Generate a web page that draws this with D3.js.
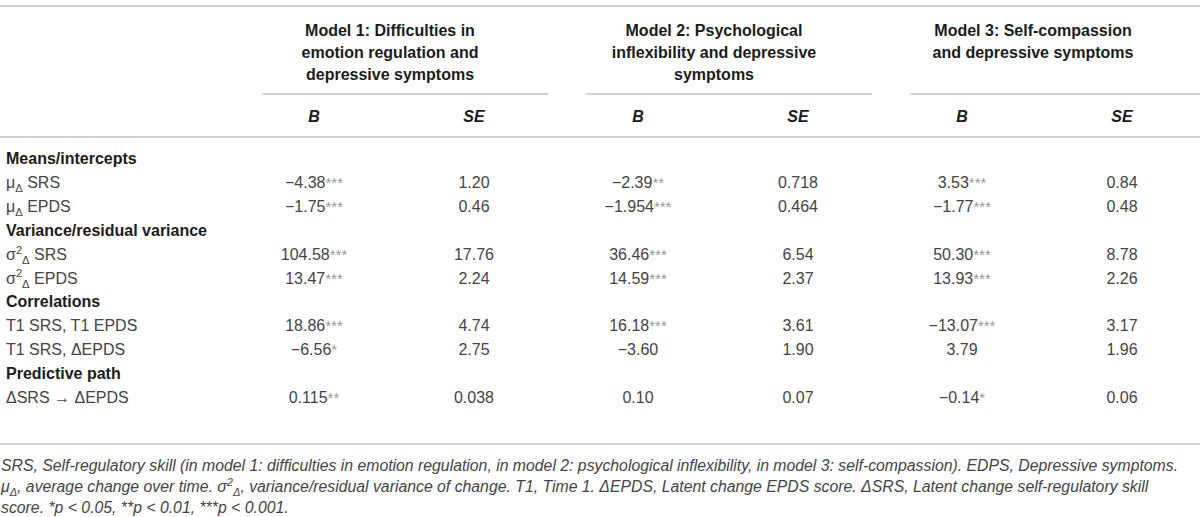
<!DOCTYPE html>
<html>
<head>
<meta charset="utf-8">
<script src="https://cdn.jsdelivr.net/npm/d3@7"></script>
<style>
  body { margin: 0; background: #fff; }
  svg { display: block; font-family: "Liberation Sans", Arial, sans-serif; }
</style>
</head>
<body>
<svg id="tbl" width="1200" height="517"></svg>
<script>
/////////////////////////// Data ///////////////////////////
const models = ["Model 1", "Model 2", "Model 3"];
const modelTitles = [
  ["Model 1: Difficulties in", "emotion regulation and", "depressive symptoms"],
  ["Model 2: Psychological", "inflexibility and depressive", "symptoms"],
  ["Model 3: Self-compassion", "and depressive symptoms"]
];
const subCols = ["B", "SE"];

const sections = ["Means/intercepts", "Variance/residual variance", "Correlations", "Predictive path"];
const rowLabels = ["μ_{Δ} SRS", "μ_{Δ} EPDS", "σ^{2}_{Δ} SRS", "σ^{2}_{Δ} EPDS",
                   "T1 SRS, T1 EPDS", "T1 SRS, ΔEPDS", "ΔSRS → ΔEPDS"];
const rowSection = [0, 0, 1, 1, 2, 2, 3];

const model1B     = ["−4.38", "−1.75", "104.58", "13.47", "18.86", "−6.56", "0.115"];
const model1Stars = ["***", "***", "***", "***", "***", "*", "**"];
const model1SE    = ["1.20", "0.46", "17.76", "2.24", "4.74", "2.75", "0.038"];

const model2B     = ["−2.39", "−1.954", "36.46", "14.59", "16.18", "−3.60", "0.10"];
const model2Stars = ["**", "***", "***", "***", "***", "", ""];
const model2SE    = ["0.718", "0.464", "6.54", "2.37", "3.61", "1.90", "0.07"];

const model3B     = ["3.53", "−1.77", "50.30", "13.93", "−13.07", "3.79", "−0.14"];
const model3Stars = ["***", "***", "***", "***", "***", "", "*"];
const model3SE    = ["0.84", "0.48", "8.78", "2.26", "3.17", "1.96", "0.06"];

const footnote = [
  "SRS, Self-regulatory skill (in model 1: difficulties in emotion regulation, in model 2: psychological inflexibility, in model 3: self-compassion). EDPS, Depressive symptoms.",
  "μ_{Δ}, average change over time. σ^{2}_{Δ}, variance/residual variance of change. T1, Time 1. ΔEPDS, Latent change EPDS score. ΔSRS, Latent change self-regulatory skill",
  "score. *p < 0.05, **p < 0.01, ***p < 0.001."
];

/////////////////////////// Layout ///////////////////////////
const svg = d3.select('#tbl');
const width = +svg.attr("width");

const lineColor = "#d2d2d2";
const textColor = "#444";
const headColor = "#1b1b1b";
const fs = 16;

// model groups across the page
const xModel = d3.scaleBand().domain(models).range([228, 1200]);
// B / SE position inside a model group
const xSub = d3.scaleOrdinal().domain(subCols).range([86, 246]);

// build the body lines: section header followed by its rows
const bodyLines = [];
sections.forEach((s, si) => {
  bodyLines.push({ type: "section", text: s });
  rowLabels.forEach((r, ri) => {
    if (rowSection[ri] === si) bodyLines.push({ type: "row", text: r, index: ri });
  });
});
const yBody = d3.scalePoint().domain(d3.range(bodyLines.length)).range([158, 397]);

//_________________ Helper: text with ^{sup} and _{sub}
function richText(sel, str, size) {
  const parts = str.split(/(\^\{[^}]*\}|_\{[^}]*\})/).filter(p => p !== "");
  let shift = 0;
  parts.forEach(p => {
    let target = 0, content = p, f = size;
    if (p.startsWith("^{")) { target = -size * 0.38; content = p.slice(2, -1); f = size * 0.7; }
    else if (p.startsWith("_{")) { target = size * 0.28; content = p.slice(2, -1); f = size * 0.7; }
    sel.append("tspan")
      .attr("dy", target - shift)
      .attr("font-size", f)
      .text(content);
    shift = target;
  });
  if (shift !== 0) sel.append("tspan").attr("dy", -shift).text("");
}

//_________________ Rules
function hLine(x1, x2, y) {
  svg.append("line")
    .attr("x1", x1).attr("x2", x2)
    .attr("y1", y).attr("y2", y)
    .attr("stroke", lineColor)
    .attr("stroke-width", 2);
}
hLine(0, width, 6);
hLine(0, width, 137);
hLine(0, width, 444);
models.forEach((m, i) => {
  const x0 = xModel(m);
  const x1 = i === models.length - 1 ? width : x0 + xModel.bandwidth() - 4;
  hLine(x0 + 34, x1, 94);
});

//_________________ Header
const head = svg.append("g")
  .attr("font-weight", 700)
  .attr("font-size", fs)
  .attr("fill", headColor)
  .attr("text-anchor", "middle");

models.forEach((m, i) => {
  modelTitles[i].forEach((t, j) => {
    head.append("text")
      .attr("x", xModel(m) + xModel.bandwidth() / 2 - (i === 2 ? 5 : 0))
      .attr("y", 36 + j * 22)
      .text(t);
  });
  subCols.forEach(c => {
    head.append("text")
      .attr("x", xModel(m) + xSub(c))
      .attr("y", 122)
      .attr("font-style", "italic")
      .text(c);
  });
});

//_________________ Body
const body = svg.append("g").attr("font-size", fs);

bodyLines.forEach((d, li) => {
  const t = body.append("text")
    .attr("x", 6)
    .attr("y", yBody(li) + 6);
  if (d.type === "section") {
    t.attr("font-weight", 700).attr("fill", headColor).text(d.text);
  } else {
    t.attr("fill", textColor);
    richText(t, d.text, fs);
  }
});

const bCols = [model1B, model2B, model3B];
const starCols = [model1Stars, model2Stars, model3Stars];
const seCols = [model1SE, model2SE, model3SE];

models.forEach((m, mi) => {
  bodyLines.forEach((d, li) => {
    if (d.type !== "row") return;
    const r = d.index;
    const tb = body.append("text")
      .attr("x", xModel(m) + xSub("B"))
      .attr("y", yBody(li) + 6)
      .attr("text-anchor", "middle")
      .attr("fill", textColor);
    tb.append("tspan").text(bCols[mi][r]);
    if (starCols[mi][r]) {
      tb.append("tspan")
        .attr("font-size", 15)
        .attr("fill", "#999")
        .text(starCols[mi][r]);
    }
    body.append("text")
      .attr("x", xModel(m) + xSub("SE"))
      .attr("y", yBody(li) + 6)
      .attr("text-anchor", "middle")
      .attr("fill", textColor)
      .text(seCols[mi][r]);
  });
});

//_________________ Footnote
const foot = svg.append("g")
  .attr("font-size", 15.8)
  .attr("font-style", "italic")
  .attr("fill", textColor);

footnote.forEach((f, i) => {
  const t = foot.append("text")
    .attr("x", 1)
    .attr("y", 471 + i * 21);
  richText(t, f, 15.8);
});
</script>
</body>
</html>
